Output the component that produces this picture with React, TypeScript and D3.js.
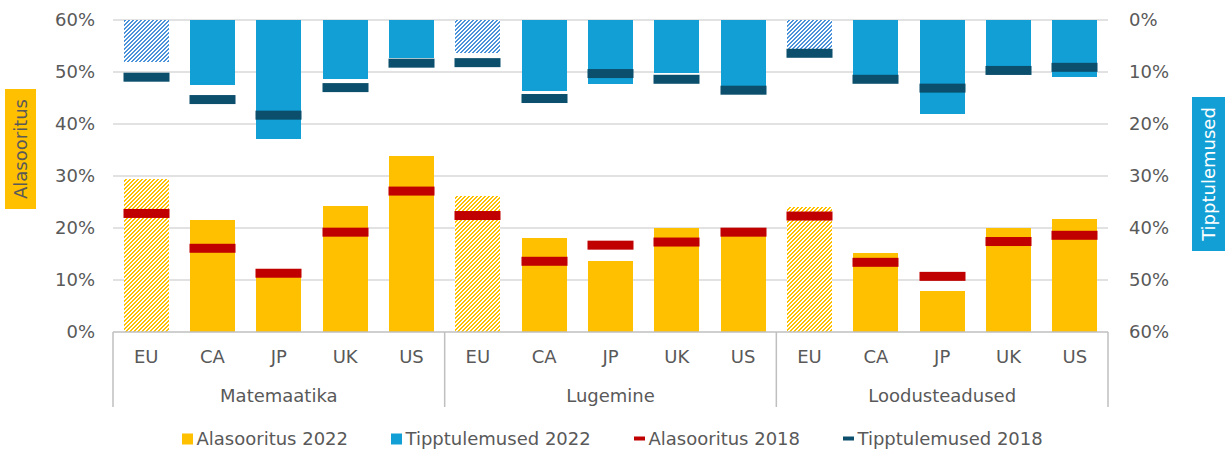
import React from 'react';
import * as d3 from 'd3';

const subjects = ['Matemaatika', 'Lugemine', 'Loodusteadused'];
const countries = ['EU', 'CA', 'JP', 'UK', 'US'];
// values per subject, in country order
const low2022 = [29.4, 21.5, 10.6, 24.2, 33.8, 26.2, 18.0, 13.7, 20.0, 19.6, 24.1, 15.1, 7.9, 20.0, 21.8];
const low2018 = [22.8, 16.1, 11.3, 19.2, 27.1, 22.4, 13.6, 16.7, 17.3, 19.2, 22.3, 13.4, 10.7, 17.4, 18.6];
const top2022 = [8.0, 12.5, 22.9, 11.4, 7.3, 6.4, 13.6, 12.4, 10.1, 13.4, 5.6, 11.2, 18.0, 8.9, 11.0];
const top2018 = [11.0, 15.3, 18.3, 13.0, 8.3, 8.2, 15.1, 10.3, 11.4, 13.5, 6.4, 11.4, 13.1, 9.7, 9.1];
const ticks = [0, 10, 20, 30, 40, 50, 60];
const legendItems = ['Alasooritus 2022', 'Tipptulemused 2022', 'Alasooritus 2018', 'Tipptulemused 2018'];

const W = 1225, H = 449;
const L = 113, R = 1108, T = 20, B = 332;
const YELLOW = '#FFC000', BLUE = '#129FD6', BLUE_H = '#4A92DA', RED = '#C00000', TEAL = '#0B4F6C';
const TXT = '#595959';
const FONT = '"DejaVu Sans", Verdana, sans-serif';

function Hatch({ id, color }: { id: string; color: string }) {
  // 4x4 pixel tile, "/" diagonal stripes 2px on, 2px off
  const d = 'M0,0h2v1h-2z M0,1h1v1h-1z M3,1h1v1h-1z M2,2h2v1h-2z M1,3h2v1h-2z';
  return (
    <pattern id={id} patternUnits="userSpaceOnUse" width={4} height={4}>
      <rect width={4} height={4} fill="#fff" shapeRendering="crispEdges" />
      <path d={d} fill={color} shapeRendering="crispEdges" />
    </pattern>
  );
}

export default function App() {
  const keys = subjects.flatMap((s) => countries.map((c) => `${s}|${c}`));
  const x = d3.scaleBand<string>().domain(keys).range([L, R]).paddingInner(0.32).paddingOuter(0.16);
  const yL = d3.scaleLinear().domain([0, 60]).range([B, T]);
  const yR = d3.scaleLinear().domain([0, 60]).range([T, B]);
  const bw = Math.round(x.bandwidth());
  const groupW = (R - L) / subjects.length;
  const mk = 9;
  const bx = (k: string) => Math.round(x(k)!);

  return (
    <svg width={W} height={H} style={{ position: 'absolute', left: 0, top: 0, fontFamily: FONT }}>
      <defs>
        <Hatch id="hy" color={YELLOW} />
        <Hatch id="hb" color={BLUE_H} />
      </defs>
      <rect width={W} height={H} fill="#fff" />
      {ticks.map((t) => (
        <g key={t}>
          {t > 0 && <line x1={L} x2={R} y1={yL(t)} y2={yL(t)} stroke="#D9D9D9" strokeWidth={1.5} />}
          <text x={95} y={yL(t)} dy="0.35em" textAnchor="end" fontSize={18} fill={TXT}>{t}%</text>
          <text x={1129} y={yR(t)} dy="0.35em" textAnchor="start" fontSize={18} fill={TXT}>{t}%</text>
        </g>
      ))}
      {keys.map((k, i) => {
        const x0 = bx(k);
        const isEU = k.endsWith('|EU');
        const yl = Math.round(yL(low2022[i]));
        const yt = Math.round(yR(top2022[i]));
        return (
          <g key={k}>
            <rect x={x0} y={yl} width={bw} height={B - yl} fill={isEU ? 'url(#hy)' : YELLOW} />
            <rect x={x0} y={T} width={bw} height={yt - T} fill={isEU ? 'url(#hb)' : BLUE} />
          </g>
        );
      })}
      {keys.map((k, i) => {
        const x0 = bx(k) - 0.5;
        return (
          <g key={k + 'm'}>
            <rect x={x0} y={yL(low2018[i]) - mk / 2} width={bw + 1} height={mk} fill={RED} />
            <rect x={x0} y={yR(top2018[i]) - mk / 2} width={bw + 1} height={mk} fill={TEAL} />
          </g>
        );
      })}
      <line x1={L} x2={R} y1={B} y2={B} stroke="#BFBFBF" strokeWidth={1.5} />
      {d3.range(subjects.length + 1).map((g) => (
        <line key={g} x1={L + g * groupW} x2={L + g * groupW} y1={B} y2={407} stroke="#BFBFBF" strokeWidth={1.5} />
      ))}
      {keys.map((k) => (
        <text key={k + 't'} x={x(k)! + x.bandwidth() / 2} y={357} dy="0.35em" textAnchor="middle" fontSize={18} fill={TXT}>
          {k.split('|')[1]}
        </text>
      ))}
      {subjects.map((s, g) => (
        <text key={s} x={L + (g + 0.5) * groupW} y={396} dy="0.35em" textAnchor="middle" fontSize={18} fill={TXT}>
          {s}
        </text>
      ))}
      <rect x={5} y={89} width={31} height={120} fill={YELLOW} />
      <text transform={`translate(21,149) rotate(-90)`} dy="0.35em" textAnchor="middle" fontSize={18} fill={TXT}>
        Alasooritus
      </text>
      <rect x={1192} y={97} width={40} height={154} fill={BLUE} />
      <text transform={`translate(1209,174) rotate(-90)`} dy="0.35em" textAnchor="middle" fontSize={18} fill="#fff">
        Tipptulemused
      </text>
      {legendItems.map((lab, i) => {
        const xs = [182, 391, 634, 843][i];
        const col = [YELLOW, BLUE, RED, TEAL][i];
        return (
          <g key={lab}>
            {i < 2 ? (
              <rect x={xs} y={433.5} width={11} height={11} fill={col} />
            ) : (
              <rect x={xs} y={436.5} width={11} height={4} fill={col} />
            )}
            <text x={xs + 14.5} y={439} dy="0.35em" fontSize={18} fill={TXT}>{lab}</text>
          </g>
        );
      })}
    </svg>
  );
}
